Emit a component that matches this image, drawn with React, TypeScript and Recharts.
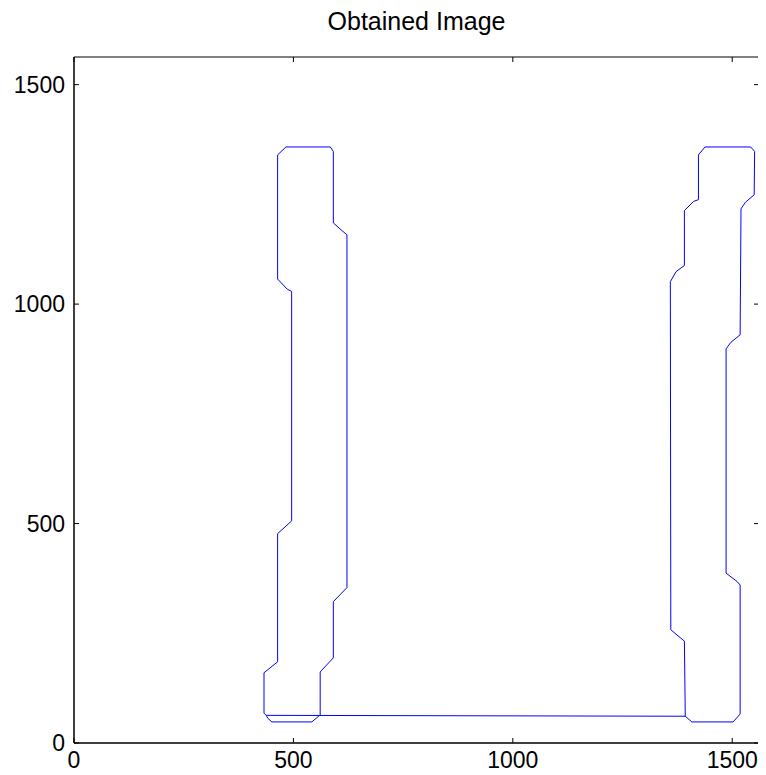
import React from "react";
import { LineChart, Line, XAxis, YAxis, Label } from "recharts";

// contour of the right shape, starting at its bottom-left corner
const rightX = [1393, 1391, 1360, 1359, 1372, 1391, 1391, 1412, 1423, 1423, 1438, 1542, 1551, 1550, 1530, 1520, 1518, 1497, 1486, 1486, 1511, 1518, 1518, 1502, 1408, 1393];
const rightY = [60, 232, 258, 1051, 1074, 1088, 1213, 1234, 1238, 1340, 1358, 1358, 1348, 1249, 1232, 1217, 930, 913, 898, 387, 368, 360, 66, 48, 48, 61];

// contour of the left shape, starting where the bridge line meets it
const leftX = [438, 433, 433, 464, 464, 496, 496, 486, 464, 464, 483, 584, 591, 591, 610, 622, 622, 591, 591, 561, 561, 542, 451, 442, 438];
const leftY = [63, 68, 160, 185, 477, 506, 1029, 1034, 1057, 1340, 1358, 1358, 1348, 1185, 1168, 1158, 354, 322, 194, 162, 64, 48, 48, 56, 63];

const xTicks = [0, 500, 1000, 1500];
const yTicks = [0, 500, 1000, 1500];
const xDomain = [0, 1561];
const yDomain = [0, 1563];

const points = [
  ...rightX.map((x, i) => ({ x, y: rightY[i] })),
  ...leftX.map((x, i) => ({ x, y: leftY[i] })),
];

const font = "'Liberation Sans', Arial, Helvetica, sans-serif";
const GAP = 9;
const TICK = 5;

// MATLAB style: labels outside, short tick marks pointing into the box
function BottomTick({ x, y, payload }: any) {
  return (
    <g>
      <line x1={x} x2={x} y1={y - GAP} y2={y - GAP - TICK} stroke="#000" />
      <text x={x} y={y} dy="0.71em" textAnchor="middle" fontSize={23} fontFamily={font} fill="#000">
        {payload.value}
      </text>
    </g>
  );
}

function LeftTick({ x, y, payload }: any) {
  return (
    <g>
      <line x1={x + GAP} x2={x + GAP + TICK} y1={y} y2={y} stroke="#000" />
      <text x={x} y={y} dy="0.355em" textAnchor="end" fontSize={23} fontFamily={font} fill="#000">
        {payload.value}
      </text>
    </g>
  );
}

function TopTick({ x, y }: any) {
  return <line x1={x} x2={x} y1={y} y2={y + TICK} stroke="#000" />;
}

function RightTick({ x, y }: any) {
  return <line x1={x} x2={x - TICK} y1={y} y2={y} stroke="#000" />;
}

export default function App() {
  return (
    <LineChart
      width={758}
      height={767}
      data={points}
      margin={{ top: 48, right: 6, bottom: 2, left: 6 }}
      style={{ background: "#fff" }}
    >
      <XAxis
        dataKey="x"
        type="number"
        domain={xDomain}
        ticks={xTicks}
        allowDataOverflow
        height={30}
        tickSize={0}
        tickMargin={GAP}
        tick={<BottomTick />}
        tickLine={false}
        axisLine={{ stroke: "#000", strokeWidth: 1.5 }}
      />
      <XAxis
        xAxisId="top"
        orientation="top"
        dataKey="x"
        type="number"
        domain={xDomain}
        ticks={xTicks}
        allowDataOverflow
        height={1}
        tickSize={0}
        tickMargin={0}
        tick={<TopTick />}
        tickLine={false}
        axisLine={{ stroke: "#000" }}
      >
        <Label
          value="Obtained Image"
          position="top"
          offset={26}
          style={{ fill: "#000", fontSize: 25, fontFamily: font }}
        />
      </XAxis>
      <YAxis
        dataKey="y"
        type="number"
        domain={yDomain}
        ticks={yTicks}
        allowDataOverflow
        width={60}
        tickSize={0}
        tickMargin={GAP}
        tick={<LeftTick />}
        tickLine={false}
        axisLine={{ stroke: "#000", strokeWidth: 1.5 }}
      />
      <YAxis
        yAxisId="right"
        orientation="right"
        dataKey="y"
        type="number"
        domain={yDomain}
        ticks={yTicks}
        allowDataOverflow
        width={1}
        tickSize={0}
        tickMargin={0}
        tick={<RightTick />}
        tickLine={false}
        axisLine={{ stroke: "#000", strokeWidth: 1.5 }}
      />
      <Line
        dataKey="y"
        type="linear"
        stroke="#0000ff"
        strokeWidth={1}
        dot={false}
        activeDot={false}
        isAnimationActive={false}
      />
      {/* invisible copy so the top and right axes have a series bound to them */}
      <Line
        xAxisId="top"
        yAxisId="right"
        dataKey="y"
        type="linear"
        stroke="none"
        dot={false}
        activeDot={false}
        legendType="none"
        isAnimationActive={false}
      />
    </LineChart>
  );
}
